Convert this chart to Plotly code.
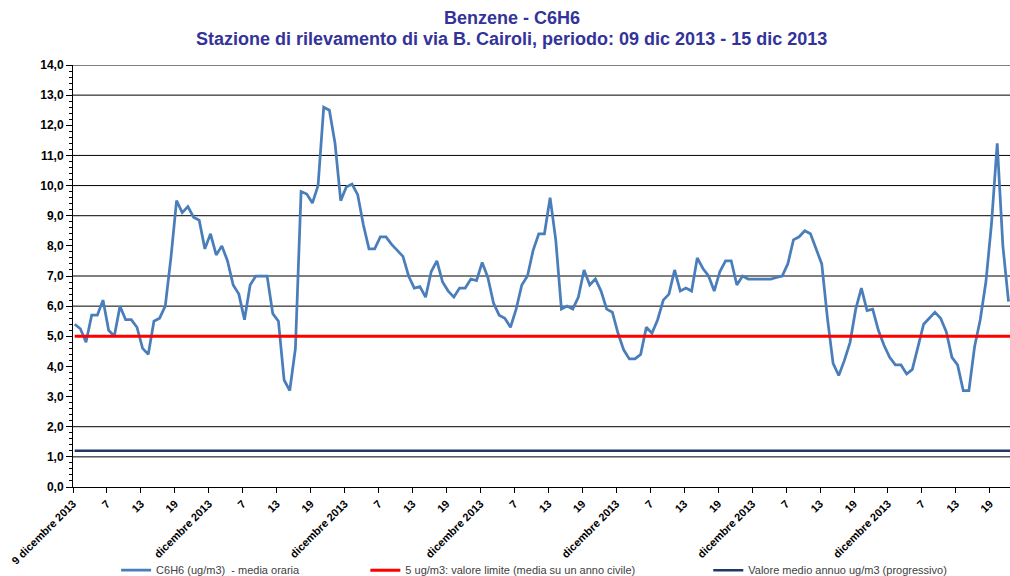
import plotly.graph_objects as go

# hourly benzene values, 9 dic 2013 h1 onward (picture is cut at the right)
c6h6 = [
    5.4, 5.25, 4.8, 5.7, 5.7, 6.2, 5.2, 5.0, 6.0, 5.55, 5.55, 5.3,
    4.6, 4.4, 5.5, 5.6, 6.0, 7.6, 9.5, 9.1, 9.3, 8.95, 8.85, 7.9,
    8.4, 7.7, 8.0, 7.5, 6.7, 6.4, 5.55, 6.7, 7.0, 7.0, 7.0, 5.75,
    5.5, 3.55, 3.2, 4.6, 9.8, 9.72, 9.42, 10.0, 12.6, 12.5, 11.4, 9.5,
    9.95, 10.05, 9.7, 8.7, 7.9, 7.9, 8.3, 8.3, 8.05, 7.85, 7.65, 7.0,
    6.6, 6.65, 6.3, 7.15, 7.5, 6.8, 6.5, 6.3, 6.6, 6.6, 6.9, 6.85,
    7.45, 6.95, 6.1, 5.7, 5.6, 5.3, 5.9, 6.7, 7.0, 7.85, 8.4, 8.4,
    9.6, 8.2, 5.9, 6.0, 5.9, 6.3, 7.2, 6.7, 6.9, 6.5, 5.9, 5.8,
    5.1, 4.55, 4.25, 4.25, 4.4, 5.3, 5.1, 5.55, 6.2, 6.4, 7.2, 6.5,
    6.6, 6.5, 7.6, 7.25, 7.0, 6.5, 7.15, 7.5, 7.5, 6.7, 7.0, 6.9,
    6.9, 6.9, 6.9, 6.9, 6.95, 7.0, 7.4, 8.2, 8.3, 8.5, 8.4, 7.9,
    7.4, 5.6, 4.1, 3.7, 4.2, 4.8, 5.9, 6.6, 5.85, 5.9, 5.2, 4.7,
    4.3, 4.05, 4.05, 3.75, 3.9, 4.65, 5.4, 5.6, 5.8, 5.6, 5.15, 4.3,
    4.05, 3.2, 3.2, 4.65, 5.55, 6.8, 8.75, 11.4, 8.0, 6.15,
]
n_hours = 168
limit_value = 5.0
annual_mean = 1.2

hour_labels = ["7", "13", "19"]
first_day_label = "9 dicembre 2013"
day_label = "dicembre 2013"
grid_levels = [14, 13, 11, 10, 9, 7, 6, 2, 1]

title_lines = [
    "Benzene - C6H6",
    "Stazione di rilevamento di via B. Cairoli, periodo: 09 dic 2013 - 15 dic 2013",
]

hours = list(range(n_hours))
tick_vals = [h - 0.3 for h in hours[::6]]
tick_text = []
for j in range(len(tick_vals)):
    if j == 0:
        tick_text.append(first_day_label)
    elif j % 4 == 0:
        tick_text.append(day_label)
    else:
        tick_text.append(hour_labels[j % 4 - 1])

fig = go.Figure()
fig.add_trace(go.Scatter(
    x=hours[:len(c6h6)], y=c6h6, mode="lines",
    name="C6H6 (ug/m3)  - media oraria",
    line={"color": "#4A7EBB", "width": 2.75},
    legend="legend",
))
fig.add_trace(go.Scatter(
    x=hours, y=[limit_value] * n_hours, mode="lines",
    name="5 ug/m3: valore limite (media su un anno civile)",
    line={"color": "#FF0000", "width": 3},
    legend="legend2",
))
fig.add_trace(go.Scatter(
    x=hours, y=[annual_mean] * n_hours, mode="lines",
    name="Valore medio annuo ug/m3 (progressivo)",
    line={"color": "#1F3864", "width": 2.5},
    legend="legend3",
))

for level in grid_levels:
    fig.add_shape(type="line", xref="paper", x0=0, x1=1, yref="y", y0=level, y1=level,
                  line={"color": "black", "width": 1}, layer="below")

title_font = {"family": "Liberation Sans, Arial", "size": 18, "color": "#333399", "weight": "bold"}
for i, line in enumerate(title_lines):
    fig.add_annotation(text=line, xref="paper", x=0.468, xanchor="center",
                       yref="paper", y=1 + (47 - 21 * i) / 422, yanchor="middle",
                       showarrow=False, font=title_font)

legend_style = dict(orientation="h", yanchor="middle", y=-0.197, xanchor="left",
                    font={"family": "Liberation Sans, Arial", "size": 11, "color": "#404040"},
                    bgcolor="rgba(0,0,0,0)")

fig.update_layout(
    width=1010, height=576,
    margin={"l": 73, "r": 0, "t": 65, "b": 89, "autoexpand": False},
    paper_bgcolor="white", plot_bgcolor="white",
    separators=",.",
    showlegend=True,
    legend={**legend_style, "x": 0.046},
    legend2={**legend_style, "x": 0.312},
    legend3={**legend_style, "x": 0.678},
    xaxis={
        "range": [-0.3, 165.26], "automargin": False,
        "tickmode": "array", "tickvals": tick_vals, "ticktext": tick_text,
        "tickangle": -45, "ticks": "outside", "ticklen": 5, "tickcolor": "black",
        "showline": True, "linecolor": "black", "linewidth": 1,
        "showgrid": False, "zeroline": False,
        "tickfont": {"family": "Liberation Sans, Arial", "size": 11, "color": "black", "weight": "bold"},
    },
    yaxis={
        "range": [0, 14], "dtick": 1, "tickformat": ".1f", "automargin": False,
        "ticks": "outside", "ticklen": 6, "tickcolor": "black",
        "minor": {"dtick": 0.2, "ticks": "outside", "ticklen": 3, "tickcolor": "black"},
        "showline": True, "linecolor": "black", "linewidth": 1,
        "showgrid": False, "zeroline": False,
        "tickfont": {"family": "Liberation Sans, Arial", "size": 12, "color": "black", "weight": "bold"},
    },
)

# drop the default page margin so the figure sits at the window's corner
fig.write_html("out.html", config={"displayModeBar": False},
               post_script="document.body.style.margin='0';document.body.style.overflow='hidden';")
